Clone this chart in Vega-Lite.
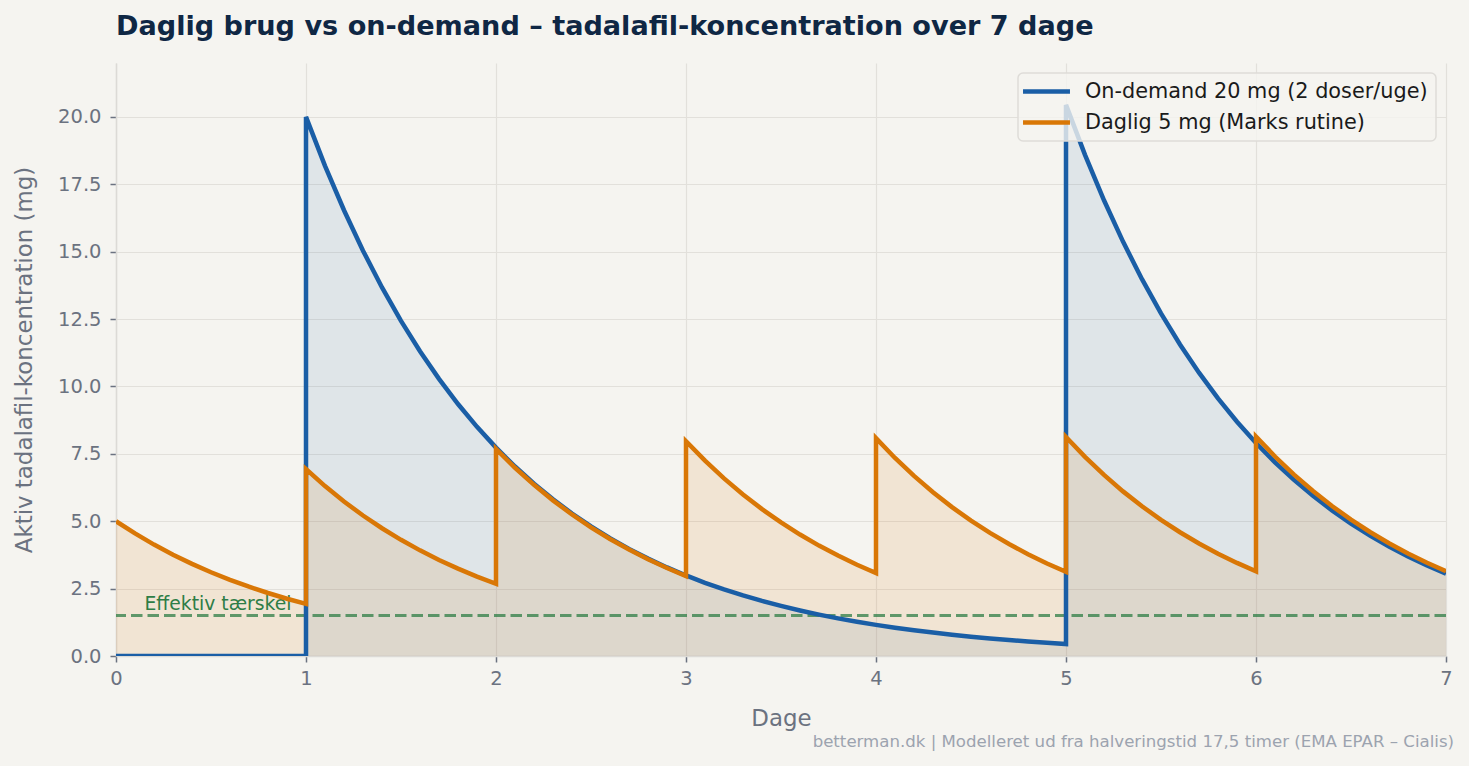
{
  "$schema": "https://vega.github.io/schema/vega-lite/v6.json",
  "width": 1330,
  "height": 593,
  "autosize": {"type": "none"},
  "padding": {"left": 116, "top": 63, "right": 23, "bottom": 110},
  "background": "#f5f4f0",
  "title": {
    "text": "Daglig brug vs on-demand – tadalafil-koncentration over 7 dage",
    "anchor": "start",
    "frame": "group",
    "font": "DejaVu Sans",
    "fontSize": 27.1,
    "fontWeight": "bold",
    "color": "#0f2744",
    "offset": 22
  },
  "datasets": {
    "curves": [
      {"day": 0, "mg": 0, "series": "On-demand 20 mg (2 doser/uge)"},
      {"day": 1, "mg": 0, "series": "On-demand 20 mg (2 doser/uge)"},
      {"day": 1, "mg": 20, "series": "On-demand 20 mg (2 doser/uge)"},
      {"day": 1.1, "mg": 18.186, "series": "On-demand 20 mg (2 doser/uge)"},
      {"day": 1.2, "mg": 16.537, "series": "On-demand 20 mg (2 doser/uge)"},
      {"day": 1.3, "mg": 15.038, "series": "On-demand 20 mg (2 doser/uge)"},
      {"day": 1.4, "mg": 13.674, "series": "On-demand 20 mg (2 doser/uge)"},
      {"day": 1.5, "mg": 12.434, "series": "On-demand 20 mg (2 doser/uge)"},
      {"day": 1.6, "mg": 11.306, "series": "On-demand 20 mg (2 doser/uge)"},
      {"day": 1.7, "mg": 10.281, "series": "On-demand 20 mg (2 doser/uge)"},
      {"day": 1.8, "mg": 9.349, "series": "On-demand 20 mg (2 doser/uge)"},
      {"day": 1.9, "mg": 8.501, "series": "On-demand 20 mg (2 doser/uge)"},
      {"day": 2, "mg": 7.730, "series": "On-demand 20 mg (2 doser/uge)"},
      {"day": 2.1, "mg": 7.029, "series": "On-demand 20 mg (2 doser/uge)"},
      {"day": 2.2, "mg": 6.392, "series": "On-demand 20 mg (2 doser/uge)"},
      {"day": 2.3, "mg": 5.812, "series": "On-demand 20 mg (2 doser/uge)"},
      {"day": 2.4, "mg": 5.285, "series": "On-demand 20 mg (2 doser/uge)"},
      {"day": 2.5, "mg": 4.806, "series": "On-demand 20 mg (2 doser/uge)"},
      {"day": 2.6, "mg": 4.370, "series": "On-demand 20 mg (2 doser/uge)"},
      {"day": 2.7, "mg": 3.974, "series": "On-demand 20 mg (2 doser/uge)"},
      {"day": 2.8, "mg": 3.613, "series": "On-demand 20 mg (2 doser/uge)"},
      {"day": 2.9, "mg": 3.286, "series": "On-demand 20 mg (2 doser/uge)"},
      {"day": 3, "mg": 2.988, "series": "On-demand 20 mg (2 doser/uge)"},
      {"day": 3.1, "mg": 2.717, "series": "On-demand 20 mg (2 doser/uge)"},
      {"day": 3.2, "mg": 2.471, "series": "On-demand 20 mg (2 doser/uge)"},
      {"day": 3.3, "mg": 2.246, "series": "On-demand 20 mg (2 doser/uge)"},
      {"day": 3.4, "mg": 2.043, "series": "On-demand 20 mg (2 doser/uge)"},
      {"day": 3.5, "mg": 1.858, "series": "On-demand 20 mg (2 doser/uge)"},
      {"day": 3.6, "mg": 1.689, "series": "On-demand 20 mg (2 doser/uge)"},
      {"day": 3.7, "mg": 1.536, "series": "On-demand 20 mg (2 doser/uge)"},
      {"day": 3.8, "mg": 1.397, "series": "On-demand 20 mg (2 doser/uge)"},
      {"day": 3.9, "mg": 1.270, "series": "On-demand 20 mg (2 doser/uge)"},
      {"day": 4, "mg": 1.155, "series": "On-demand 20 mg (2 doser/uge)"},
      {"day": 4.1, "mg": 1.050, "series": "On-demand 20 mg (2 doser/uge)"},
      {"day": 4.2, "mg": 0.955, "series": "On-demand 20 mg (2 doser/uge)"},
      {"day": 4.3, "mg": 0.868, "series": "On-demand 20 mg (2 doser/uge)"},
      {"day": 4.4, "mg": 0.790, "series": "On-demand 20 mg (2 doser/uge)"},
      {"day": 4.5, "mg": 0.718, "series": "On-demand 20 mg (2 doser/uge)"},
      {"day": 4.6, "mg": 0.653, "series": "On-demand 20 mg (2 doser/uge)"},
      {"day": 4.7, "mg": 0.594, "series": "On-demand 20 mg (2 doser/uge)"},
      {"day": 4.8, "mg": 0.540, "series": "On-demand 20 mg (2 doser/uge)"},
      {"day": 4.9, "mg": 0.491, "series": "On-demand 20 mg (2 doser/uge)"},
      {"day": 5, "mg": 0.446, "series": "On-demand 20 mg (2 doser/uge)"},
      {"day": 5, "mg": 20.446, "series": "On-demand 20 mg (2 doser/uge)"},
      {"day": 5.1, "mg": 18.592, "series": "On-demand 20 mg (2 doser/uge)"},
      {"day": 5.2, "mg": 16.906, "series": "On-demand 20 mg (2 doser/uge)"},
      {"day": 5.3, "mg": 15.373, "series": "On-demand 20 mg (2 doser/uge)"},
      {"day": 5.4, "mg": 13.979, "series": "On-demand 20 mg (2 doser/uge)"},
      {"day": 5.5, "mg": 12.711, "series": "On-demand 20 mg (2 doser/uge)"},
      {"day": 5.6, "mg": 11.559, "series": "On-demand 20 mg (2 doser/uge)"},
      {"day": 5.7, "mg": 10.511, "series": "On-demand 20 mg (2 doser/uge)"},
      {"day": 5.8, "mg": 9.557, "series": "On-demand 20 mg (2 doser/uge)"},
      {"day": 5.9, "mg": 8.691, "series": "On-demand 20 mg (2 doser/uge)"},
      {"day": 6, "mg": 7.903, "series": "On-demand 20 mg (2 doser/uge)"},
      {"day": 6.1, "mg": 7.186, "series": "On-demand 20 mg (2 doser/uge)"},
      {"day": 6.2, "mg": 6.534, "series": "On-demand 20 mg (2 doser/uge)"},
      {"day": 6.3, "mg": 5.942, "series": "On-demand 20 mg (2 doser/uge)"},
      {"day": 6.4, "mg": 5.403, "series": "On-demand 20 mg (2 doser/uge)"},
      {"day": 6.5, "mg": 4.913, "series": "On-demand 20 mg (2 doser/uge)"},
      {"day": 6.6, "mg": 4.468, "series": "On-demand 20 mg (2 doser/uge)"},
      {"day": 6.7, "mg": 4.062, "series": "On-demand 20 mg (2 doser/uge)"},
      {"day": 6.8, "mg": 3.694, "series": "On-demand 20 mg (2 doser/uge)"},
      {"day": 6.9, "mg": 3.359, "series": "On-demand 20 mg (2 doser/uge)"},
      {"day": 7, "mg": 3.054, "series": "On-demand 20 mg (2 doser/uge)"},

      {"day": 0, "mg": 5.000, "series": "Daglig 5 mg (Marks rutine)"},
      {"day": 0.1, "mg": 4.547, "series": "Daglig 5 mg (Marks rutine)"},
      {"day": 0.2, "mg": 4.134, "series": "Daglig 5 mg (Marks rutine)"},
      {"day": 0.3, "mg": 3.759, "series": "Daglig 5 mg (Marks rutine)"},
      {"day": 0.4, "mg": 3.418, "series": "Daglig 5 mg (Marks rutine)"},
      {"day": 0.5, "mg": 3.108, "series": "Daglig 5 mg (Marks rutine)"},
      {"day": 0.6, "mg": 2.827, "series": "Daglig 5 mg (Marks rutine)"},
      {"day": 0.7, "mg": 2.570, "series": "Daglig 5 mg (Marks rutine)"},
      {"day": 0.8, "mg": 2.337, "series": "Daglig 5 mg (Marks rutine)"},
      {"day": 0.9, "mg": 2.125, "series": "Daglig 5 mg (Marks rutine)"},
      {"day": 1, "mg": 1.933, "series": "Daglig 5 mg (Marks rutine)"},
      {"day": 1, "mg": 6.933, "series": "Daglig 5 mg (Marks rutine)"},
      {"day": 1.1, "mg": 6.304, "series": "Daglig 5 mg (Marks rutine)"},
      {"day": 1.2, "mg": 5.732, "series": "Daglig 5 mg (Marks rutine)"},
      {"day": 1.3, "mg": 5.212, "series": "Daglig 5 mg (Marks rutine)"},
      {"day": 1.4, "mg": 4.740, "series": "Daglig 5 mg (Marks rutine)"},
      {"day": 1.5, "mg": 4.310, "series": "Daglig 5 mg (Marks rutine)"},
      {"day": 1.6, "mg": 3.919, "series": "Daglig 5 mg (Marks rutine)"},
      {"day": 1.7, "mg": 3.564, "series": "Daglig 5 mg (Marks rutine)"},
      {"day": 1.8, "mg": 3.241, "series": "Daglig 5 mg (Marks rutine)"},
      {"day": 1.9, "mg": 2.947, "series": "Daglig 5 mg (Marks rutine)"},
      {"day": 2, "mg": 2.680, "series": "Daglig 5 mg (Marks rutine)"},
      {"day": 2, "mg": 7.680, "series": "Daglig 5 mg (Marks rutine)"},
      {"day": 2.1, "mg": 6.983, "series": "Daglig 5 mg (Marks rutine)"},
      {"day": 2.2, "mg": 6.350, "series": "Daglig 5 mg (Marks rutine)"},
      {"day": 2.3, "mg": 5.774, "series": "Daglig 5 mg (Marks rutine)"},
      {"day": 2.4, "mg": 5.250, "series": "Daglig 5 mg (Marks rutine)"},
      {"day": 2.5, "mg": 4.774, "series": "Daglig 5 mg (Marks rutine)"},
      {"day": 2.6, "mg": 4.341, "series": "Daglig 5 mg (Marks rutine)"},
      {"day": 2.7, "mg": 3.948, "series": "Daglig 5 mg (Marks rutine)"},
      {"day": 2.8, "mg": 3.590, "series": "Daglig 5 mg (Marks rutine)"},
      {"day": 2.9, "mg": 3.264, "series": "Daglig 5 mg (Marks rutine)"},
      {"day": 3, "mg": 2.968, "series": "Daglig 5 mg (Marks rutine)"},
      {"day": 3, "mg": 7.968, "series": "Daglig 5 mg (Marks rutine)"},
      {"day": 3.1, "mg": 7.246, "series": "Daglig 5 mg (Marks rutine)"},
      {"day": 3.2, "mg": 6.589, "series": "Daglig 5 mg (Marks rutine)"},
      {"day": 3.3, "mg": 5.991, "series": "Daglig 5 mg (Marks rutine)"},
      {"day": 3.4, "mg": 5.448, "series": "Daglig 5 mg (Marks rutine)"},
      {"day": 3.5, "mg": 4.954, "series": "Daglig 5 mg (Marks rutine)"},
      {"day": 3.6, "mg": 4.505, "series": "Daglig 5 mg (Marks rutine)"},
      {"day": 3.7, "mg": 4.096, "series": "Daglig 5 mg (Marks rutine)"},
      {"day": 3.8, "mg": 3.725, "series": "Daglig 5 mg (Marks rutine)"},
      {"day": 3.9, "mg": 3.387, "series": "Daglig 5 mg (Marks rutine)"},
      {"day": 4, "mg": 3.080, "series": "Daglig 5 mg (Marks rutine)"},
      {"day": 4, "mg": 8.080, "series": "Daglig 5 mg (Marks rutine)"},
      {"day": 4.1, "mg": 7.347, "series": "Daglig 5 mg (Marks rutine)"},
      {"day": 4.2, "mg": 6.681, "series": "Daglig 5 mg (Marks rutine)"},
      {"day": 4.3, "mg": 6.075, "series": "Daglig 5 mg (Marks rutine)"},
      {"day": 4.4, "mg": 5.524, "series": "Daglig 5 mg (Marks rutine)"},
      {"day": 4.5, "mg": 5.023, "series": "Daglig 5 mg (Marks rutine)"},
      {"day": 4.6, "mg": 4.568, "series": "Daglig 5 mg (Marks rutine)"},
      {"day": 4.7, "mg": 4.153, "series": "Daglig 5 mg (Marks rutine)"},
      {"day": 4.8, "mg": 3.777, "series": "Daglig 5 mg (Marks rutine)"},
      {"day": 4.9, "mg": 3.434, "series": "Daglig 5 mg (Marks rutine)"},
      {"day": 5, "mg": 3.123, "series": "Daglig 5 mg (Marks rutine)"},
      {"day": 5, "mg": 8.123, "series": "Daglig 5 mg (Marks rutine)"},
      {"day": 5.1, "mg": 7.386, "series": "Daglig 5 mg (Marks rutine)"},
      {"day": 5.2, "mg": 6.717, "series": "Daglig 5 mg (Marks rutine)"},
      {"day": 5.3, "mg": 6.107, "series": "Daglig 5 mg (Marks rutine)"},
      {"day": 5.4, "mg": 5.554, "series": "Daglig 5 mg (Marks rutine)"},
      {"day": 5.5, "mg": 5.050, "series": "Daglig 5 mg (Marks rutine)"},
      {"day": 5.6, "mg": 4.592, "series": "Daglig 5 mg (Marks rutine)"},
      {"day": 5.7, "mg": 4.176, "series": "Daglig 5 mg (Marks rutine)"},
      {"day": 5.8, "mg": 3.797, "series": "Daglig 5 mg (Marks rutine)"},
      {"day": 5.9, "mg": 3.453, "series": "Daglig 5 mg (Marks rutine)"},
      {"day": 6, "mg": 3.140, "series": "Daglig 5 mg (Marks rutine)"},
      {"day": 6, "mg": 8.140, "series": "Daglig 5 mg (Marks rutine)"},
      {"day": 6.1, "mg": 7.401, "series": "Daglig 5 mg (Marks rutine)"},
      {"day": 6.2, "mg": 6.730, "series": "Daglig 5 mg (Marks rutine)"},
      {"day": 6.3, "mg": 6.120, "series": "Daglig 5 mg (Marks rutine)"},
      {"day": 6.4, "mg": 5.565, "series": "Daglig 5 mg (Marks rutine)"},
      {"day": 6.5, "mg": 5.060, "series": "Daglig 5 mg (Marks rutine)"},
      {"day": 6.6, "mg": 4.601, "series": "Daglig 5 mg (Marks rutine)"},
      {"day": 6.7, "mg": 4.184, "series": "Daglig 5 mg (Marks rutine)"},
      {"day": 6.8, "mg": 3.805, "series": "Daglig 5 mg (Marks rutine)"},
      {"day": 6.9, "mg": 3.460, "series": "Daglig 5 mg (Marks rutine)"},
      {"day": 7, "mg": 3.146, "series": "Daglig 5 mg (Marks rutine)"}
    ]
  },
  "layer": [
    {
      "data": {"name": "curves"},
      "transform": [{"filter": "datum.series === 'On-demand 20 mg (2 doser/uge)'"}],
      "mark": {"type": "area", "color": "#1a5ea6", "opacity": 0.1, "clip": true},
      "encoding": {
        "x": {"field": "day", "type": "quantitative", "scale": {"domain": [0, 7], "nice": false, "zero": false},
          "axis": {"title": "Dage", "values": [0, 1, 2, 3, 4, 5, 6, 7], "format": "d", "labelFlush": false, "labelPadding": 7, "titlePadding": 20}},
        "y": {"field": "mg", "type": "quantitative", "stack": null, "scale": {"domain": [0, 22], "nice": false},
          "axis": {"title": "Aktiv tadalafil-koncentration (mg)", "values": [0, 2.5, 5, 7.5, 10, 12.5, 15, 17.5, 20], "format": ".1f", "labelPadding": 9, "titlePadding": 21}},
        "order": {"value": null}
      }
    },
    {
      "data": {"name": "curves"},
      "transform": [{"filter": "datum.series === 'Daglig 5 mg (Marks rutine)'"}],
      "mark": {"type": "area", "color": "#d97706", "opacity": 0.12, "clip": true},
      "encoding": {
        "x": {"field": "day", "type": "quantitative"},
        "y": {"field": "mg", "type": "quantitative", "stack": null},
        "order": {"value": null}
      }
    },
    {
      "data": {"values": [{"mg": 1.5, "label": "Effektiv tærskel"}]},
      "mark": {"type": "rule", "color": "#2e7d46", "opacity": 0.75, "strokeWidth": 3, "strokeDash": [11.5, 5]},
      "encoding": {"y": {"field": "mg", "type": "quantitative"}}
    },
    {
      "data": {"values": [{"day": 0.15, "mg": 1.5, "label": "Effektiv tærskel"}]},
      "mark": {"type": "text", "align": "left", "baseline": "alphabetic", "dy": -6, "fontSize": 18.75, "color": "#2e7d46"},
      "encoding": {
        "x": {"field": "day", "type": "quantitative"},
        "y": {"field": "mg", "type": "quantitative"},
        "text": {"field": "label"}
      }
    },
    {
      "data": {"name": "curves"},
      "mark": {"type": "line", "strokeWidth": 4.5, "clip": true},
      "encoding": {
        "x": {"field": "day", "type": "quantitative"},
        "y": {"field": "mg", "type": "quantitative"},
        "order": {"value": null},
        "color": {
          "field": "series",
          "type": "nominal",
          "scale": {
            "domain": ["On-demand 20 mg (2 doser/uge)", "Daglig 5 mg (Marks rutine)"],
            "range": ["#1a5ea6", "#d97706"]
          },
          "legend": {"title": null}
        }
      }
    },
    {
      "data": {"values": [{"day": 7, "mg": 0, "text": "betterman.dk | Modelleret ud fra halveringstid 17,5 timer (EMA EPAR – Cialis)"}]},
      "mark": {"type": "text", "align": "right", "baseline": "alphabetic", "dx": 8, "dy": 91, "fontSize": 16.6, "color": "#9ca3af"},
      "encoding": {
        "x": {"field": "day", "type": "quantitative"},
        "y": {"field": "mg", "type": "quantitative"},
        "text": {"field": "text"}
      }
    }
  ],
  "config": {
    "font": "DejaVu Sans",
    "view": {"stroke": null},
    "axis": {
      "grid": true,
      "gridColor": "#e2e0db",
      "gridWidth": 1.2,
      "domainColor": "#dcdad6",
      "domainWidth": 1.5,
      "tickColor": "#6b7280",
      "tickSize": 6,
      "tickWidth": 1.5,
      "labelFont": "DejaVu Sans",
      "labelFontSize": 19.5,
      "labelColor": "#6b7280",
      "titleFont": "DejaVu Sans",
      "titleFontSize": 22.9,
      "titleFontWeight": "normal",
      "titleColor": "#6b7280"
    },
    "legend": {
      "orient": "top-right",
      "offset": 10,
      "fillColor": "rgba(245,244,240,0.8)",
      "strokeColor": "#dedcd8",
      "strokeWidth": 1.5,
      "cornerRadius": 5,
      "padding": 8,
      "labelFont": "DejaVu Sans",
      "labelFontSize": 20.8,
      "labelColor": "#1a1a1a",
      "labelLimit": 0,
      "symbolType": "M-3,0H3",
      "symbolSize": 245,
      "symbolStrokeWidth": 4.5,
      "symbolOffset": 10,
      "labelOffset": 28,
      "rowPadding": 9
    }
  }
}
